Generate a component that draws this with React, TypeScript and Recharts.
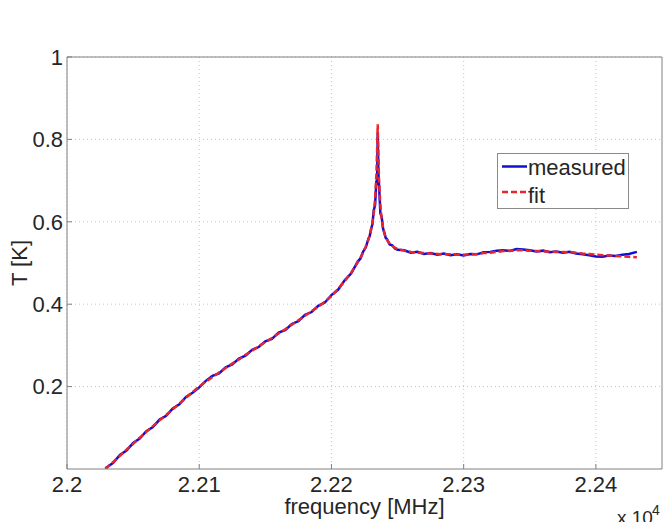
import React from "react";
import { LineChart, Line, XAxis, YAxis, CartesianGrid, Legend } from "recharts";

const frequency = [
  22029, 22035, 22040, 22045, 22050, 22055, 22060, 22065, 22070, 22075,
  22080, 22085, 22090, 22095, 22100, 22105, 22110, 22115, 22120, 22125,
  22130, 22135, 22140, 22145, 22150, 22155, 22160, 22165, 22170, 22175,
  22180, 22185, 22190, 22195, 22200, 22205, 22210, 22215, 22220, 22222,
  22224, 22226, 22228, 22229, 22230, 22231, 22232, 22233, 22234, 22234.5,
  22235, 22235.5, 22236, 22237, 22238, 22239, 22240, 22241, 22242, 22244,
  22246, 22248, 22250, 22255, 22260, 22265, 22270, 22275, 22280, 22285,
  22290, 22295, 22300, 22305, 22310, 22315, 22320, 22325, 22330, 22335,
  22340, 22345, 22350, 22355, 22360, 22365, 22370, 22375, 22380, 22385,
  22390, 22395, 22400, 22405, 22410, 22415, 22420, 22425, 22431,
];

const measured = [
  0.002, 0.015, 0.034, 0.045, 0.063, 0.074, 0.092, 0.102, 0.12, 0.129,
  0.147, 0.157, 0.175, 0.185, 0.198, 0.214, 0.226, 0.232, 0.247, 0.254,
  0.268, 0.275, 0.289, 0.296, 0.31, 0.316, 0.331, 0.337, 0.352, 0.359,
  0.374, 0.381, 0.396, 0.404, 0.422, 0.435, 0.458, 0.475, 0.504, 0.511,
  0.528, 0.538, 0.559, 0.566, 0.583, 0.594, 0.628, 0.64, 0.7, 0.69,
  0.815, 0.72, 0.69, 0.62, 0.612, 0.584, 0.574, 0.561, 0.558, 0.545,
  0.543, 0.535, 0.532, 0.531, 0.525, 0.527, 0.522, 0.524, 0.52, 0.523,
  0.519, 0.521, 0.518, 0.522, 0.521, 0.526, 0.527, 0.53, 0.531, 0.529,
  0.534, 0.533, 0.531, 0.528, 0.53, 0.526, 0.528, 0.525, 0.527, 0.523,
  0.521, 0.519, 0.516, 0.515, 0.518, 0.517, 0.52, 0.522, 0.527,
];

const fit = [
  0.0, 0.017, 0.032, 0.047, 0.061, 0.076, 0.09, 0.104, 0.118, 0.131,
  0.145, 0.159, 0.173, 0.187, 0.2, 0.212, 0.223, 0.234, 0.245, 0.256,
  0.266, 0.277, 0.287, 0.298, 0.308, 0.318, 0.329, 0.339, 0.35, 0.361,
  0.372, 0.383, 0.394, 0.406, 0.42, 0.437, 0.456, 0.477, 0.502, 0.513,
  0.526, 0.54, 0.557, 0.568, 0.581, 0.597, 0.62, 0.655, 0.715, 0.77,
  0.837, 0.76, 0.7, 0.64, 0.606, 0.586, 0.572, 0.563, 0.556, 0.547,
  0.541, 0.537, 0.534, 0.53, 0.527, 0.525, 0.524, 0.523, 0.522, 0.521,
  0.521, 0.52, 0.52, 0.521, 0.522, 0.524, 0.525, 0.527, 0.529, 0.53,
  0.531, 0.531, 0.53, 0.529, 0.528, 0.528, 0.527, 0.527, 0.526, 0.525,
  0.523, 0.522, 0.52, 0.519, 0.518, 0.517, 0.516, 0.515, 0.514,
];

const xTicks = [22000, 22100, 22200, 22300, 22400];
const xTickLabels = ["2.2", "2.21", "2.22", "2.23", "2.24"];
const yTicks = [0.2, 0.4, 0.6, 0.8, 1];
const yTickLabels = ["0.2", "0.4", "0.6", "0.8", "1"];

const xLabel = "frequency [MHz]";
const xExponentBase = "x 10";
const xExponent = "4";
const yLabel = "T [K]";

const seriesNames = ["measured", "fit"];
const seriesColors = ["#1010d2", "#e8242c"];

const data = frequency.map((f, i) => ({ f, measured: measured[i], fit: fit[i] }));

const FONT = "'Liberation Sans', Arial, Helvetica, sans-serif";
const AXIS_COLOR = "#808080";
const TEXT_COLOR = "#262626";

const renderXLabel = (props: any) => {
  const vb = props.viewBox || {};
  const cx = vb.x + vb.width / 2;
  const right = vb.x + vb.width;
  return (
    <g fontFamily={FONT} fill={TEXT_COLOR}>
      <text x={cx} y={vb.y + 45} textAnchor="middle" fontSize={22}>
        {xLabel}
      </text>
      <text x={right - 45} y={vb.y + 55} textAnchor="start" fontSize={19}>
        {xExponentBase}
      </text>
      <text x={right - 10} y={vb.y + 46} textAnchor="start" fontSize={14}>
        {xExponent}
      </text>
    </g>
  );
};

const renderYLabel = (props: any) => {
  const vb = props.viewBox || {};
  const cy = vb.y + vb.height / 2;
  const x = 27;
  return (
    <text
      x={x}
      y={cy}
      transform={`rotate(-90, ${x}, ${cy})`}
      textAnchor="middle"
      fontSize={22}
      fontFamily={FONT}
      fill={TEXT_COLOR}
    >
      {yLabel}
    </text>
  );
};

const renderLegend = () => (
  <svg width={133} height={57} style={{ display: "block" }}>
    <rect x={0.5} y={0.5} width={131} height={55} fill="#fff" stroke="#8a8a8a" strokeWidth={1} />
    <line x1={5} x2={30} y1={13.5} y2={13.5} stroke={seriesColors[0]} strokeWidth={2.5} />
    <text x={31} y={22} fontSize={22} fontFamily={FONT} fill={TEXT_COLOR}>
      {seriesNames[0]}
    </text>
    <line
      x1={5}
      x2={30}
      y1={39}
      y2={39}
      stroke={seriesColors[1]}
      strokeWidth={2.5}
      strokeDasharray="6 3"
    />
    <text x={31} y={50} fontSize={22} fontFamily={FONT} fill={TEXT_COLOR}>
      {seriesNames[1]}
    </text>
  </svg>
);

export default function App() {
  return (
    <div style={{ position: "absolute", left: 0, top: 0, width: 663, height: 522, background: "#fff" }}>
      <LineChart
        width={663}
        height={522}
        data={data}
        margin={{ top: 56, right: 0, bottom: 0, left: 0 }}
        style={{ fontFamily: FONT }}
      >
        <CartesianGrid
          stroke="#c4c4c4"
          strokeDasharray="1 3"
          horizontalValues={yTicks}
          verticalValues={xTicks}
        />
        <XAxis
          dataKey="f"
          type="number"
          domain={[22000, 22450]}
          ticks={xTicks}
          tickFormatter={(v: number) => xTickLabels[xTicks.indexOf(v)] ?? ""}
          allowDataOverflow
          height={53}
          stroke={AXIS_COLOR}
          tickSize={-5}
          tickMargin={12}
          tick={{ fill: TEXT_COLOR, fontSize: 22, fontFamily: FONT }}
          label={{ content: renderXLabel }}
        />
        <XAxis
          xAxisId="top"
          orientation="top"
          type="number"
          domain={[22000, 22450]}
          ticks={xTicks}
          allowDataOverflow
          height={1}
          stroke={AXIS_COLOR}
          tickSize={-5}
          tick={false}
        />
        <YAxis
          type="number"
          domain={[0, 1]}
          ticks={yTicks}
          tickFormatter={(v: number) => yTickLabels[yTicks.indexOf(v)] ?? ""}
          allowDataOverflow
          width={67}
          stroke={AXIS_COLOR}
          tickSize={-5}
          tickMargin={9}
          tick={{ fill: TEXT_COLOR, fontSize: 22, fontFamily: FONT }}
          label={{ content: renderYLabel }}
        />
        <YAxis
          yAxisId="right"
          orientation="right"
          type="number"
          domain={[0, 1]}
          ticks={yTicks}
          allowDataOverflow
          width={1}
          stroke={AXIS_COLOR}
          tickSize={-5}
          tick={false}
        />
        <Legend
          layout="vertical"
          align="center"
          verticalAlign="middle"
          content={renderLegend}
          wrapperStyle={{ left: 497, top: 153, width: 133, height: 57, margin: 0 }}
        />
        <Line
          name={seriesNames[0]}
          dataKey="measured"
          type="linear"
          stroke={seriesColors[0]}
          strokeWidth={2.5}
          dot={false}
          isAnimationActive={false}
        />
        <Line
          name={seriesNames[1]}
          dataKey="fit"
          type="linear"
          stroke={seriesColors[1]}
          strokeWidth={2.5}
          strokeDasharray="6 3"
          dot={false}
          isAnimationActive={false}
        />
      </LineChart>
    </div>
  );
}
